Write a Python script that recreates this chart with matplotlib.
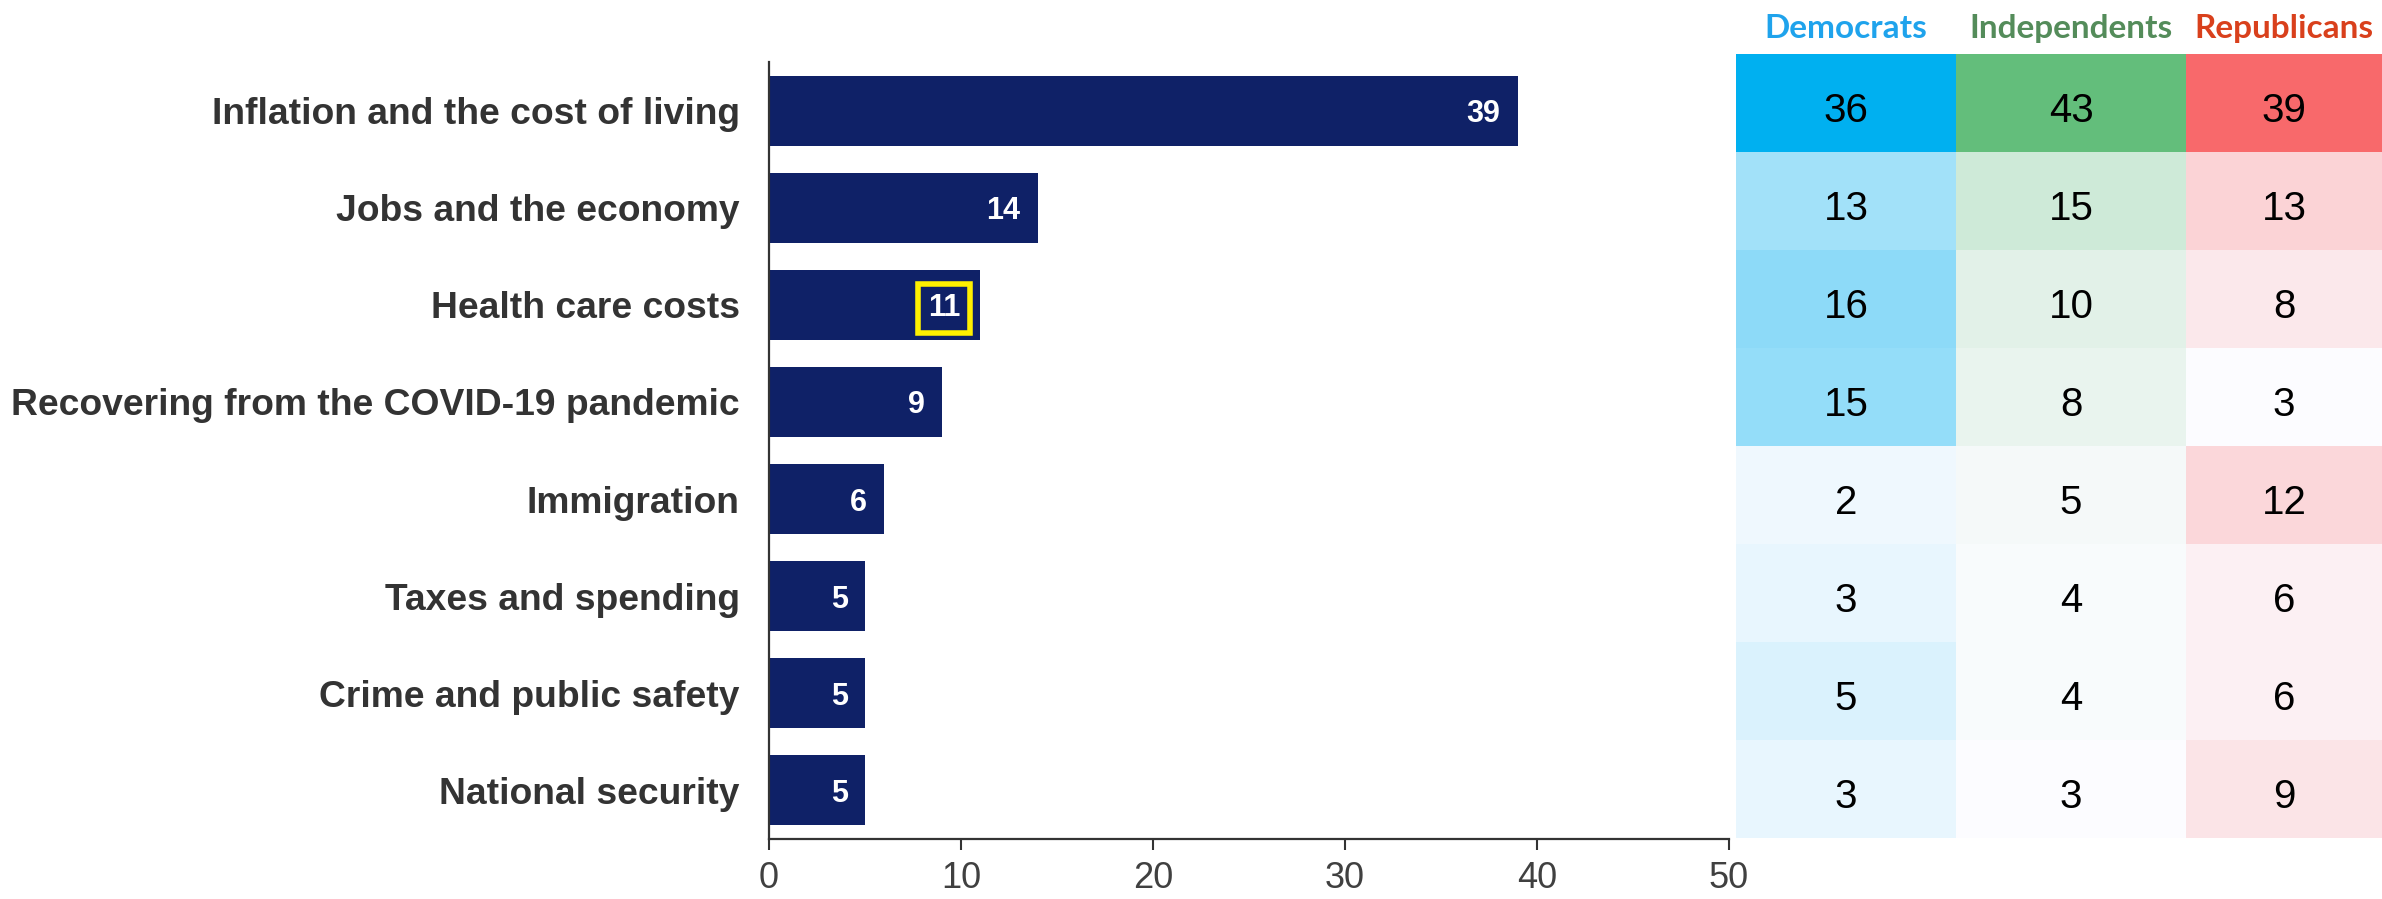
import matplotlib
matplotlib.use("Agg")
import matplotlib.pyplot as plt
import numpy as np
from matplotlib.colors import LinearSegmentedColormap, Normalize

# --- data -------------------------------------------------------------
categories = [
    "Inflation and the cost of living",
    "Jobs and the economy",
    "Health care costs",
    "Recovering from the COVID-19 pandemic",
    "Immigration",
    "Taxes and spending",
    "Crime and public safety",
    "National security",
]
overall = [39, 14, 11, 9, 6, 5, 5, 5]

parties = ["Democrats", "Independents", "Republicans"]
democrats = [36, 13, 16, 15, 2, 3, 5, 3]
independents = [43, 15, 10, 8, 5, 4, 4, 3]
republicans = [39, 13, 8, 3, 12, 6, 6, 9]

highlight = "Health care costs"
xticks = [0, 10, 20, 30, 40, 50]

# --- styling ----------------------------------------------------------
BAR_COLOR = "#0F2167"
TEXT_DARK = "#333333"
HEADER_COLORS = ["#1FA3EC", "#548C5A", "#D9401C"]
SCALE_LOW = ["#EFF8FE", "#FCFCFF", "#FCFCFF"]
SCALE_HIGH = ["#00B0F0", "#63BE7B", "#F8696B"]
COL_WIDTHS = [220, 230, 196]

W, H = 2382, 899
fig = plt.figure(figsize=(W / 100, H / 100), dpi=100)

# bar chart axes
ax = fig.add_axes([769 / W, 1 - 839 / H, 960 / W, 777 / H])
y = np.arange(len(categories))
ax.barh(y, overall, height=0.72, color=BAR_COLOR)
ax.set_xlim(0, 50)
ax.set_ylim(len(categories) - 0.5, -0.5)
ax.set_xticks(xticks)
ax.set_xticklabels([str(t) for t in xticks], family="Liberation Sans",
                   fontsize=26, color="#404040")
ax.set_yticks(y)
ax.set_yticklabels(categories, family="Liberation Sans", fontweight="bold",
                   fontsize=26.8, color=TEXT_DARK)
ax.tick_params(axis="y", length=0, pad=21)
ax.tick_params(axis="x", length=8, width=1.5, color=TEXT_DARK, pad=8)
for side in ("top", "right"):
    ax.spines[side].set_visible(False)
for side in ("left", "bottom"):
    ax.spines[side].set_color(TEXT_DARK)
    ax.spines[side].set_linewidth(1.6)

for yi, (cat, v) in enumerate(zip(categories, overall)):
    kw = {}
    if cat == highlight:
        kw["bbox"] = dict(boxstyle="square,pad=0.32", facecolor="none",
                          edgecolor="#FFF000", linewidth=4)
        off = -14.5
    else:
        off = -12.5
    ax.annotate(str(v), xy=(v, yi), xytext=(off, 0), textcoords="offset points",
                ha="right", va="center_baseline", color="white",
                fontsize=22, fontweight="bold", family="Liberation Sans", **kw)

# heat-map table axes
tab = fig.add_axes([1736 / W, 1 - 838 / H, sum(COL_WIDTHS) / W, 784 / H])
edges = np.concatenate([[0], np.cumsum(COL_WIDTHS)])
columns = [democrats, independents, republicans]
ny = len(categories)
for j, vals in enumerate(columns):
    cmap = LinearSegmentedColormap.from_list(parties[j], [SCALE_LOW[j], SCALE_HIGH[j]])
    arr = np.array(vals, dtype=float).reshape(ny, 1)
    tab.pcolormesh([edges[j], edges[j + 1]], np.arange(ny + 1), arr, cmap=cmap,
                   norm=Normalize(min(vals), max(vals)), shading="flat")
    cx = (edges[j] + edges[j + 1]) / 2
    for i, v in enumerate(vals):
        tab.text(cx, i + 0.54, str(v), ha="center", va="center_baseline",
                 fontsize=29, family="Liberation Sans", color="black")
    tab.text(cx, -0.16, parties[j], ha="center", va="baseline", fontsize=24,
             fontweight="bold", family="Lato", color=HEADER_COLORS[j], clip_on=False)
tab.set_xlim(edges[0], edges[-1])
tab.set_ylim(ny, 0)
tab.axis("off")

fig.savefig("out.png", dpi=100)
